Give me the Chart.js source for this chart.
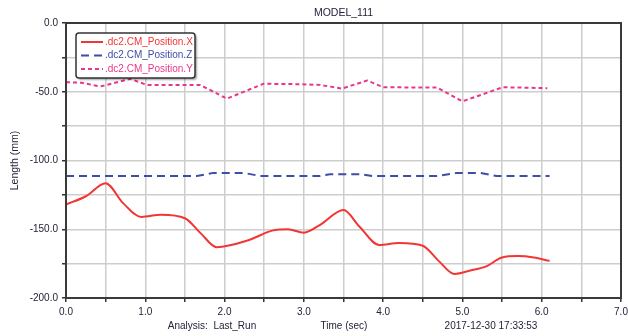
<!DOCTYPE html>
<html>
<head>
<meta charset="utf-8">
<script src="https://cdn.jsdelivr.net/npm/chart.js@4.4.1/dist/chart.umd.min.js"></script>
<style>
  html, body { margin: 0; padding: 0; background: #fff; }
  #wrap { width: 628px; height: 336px; }
</style>
</head>
<body>
<div id="wrap"><canvas id="posChart" width="628" height="336"></canvas></div>
<script>
// time samples (sec) and positions (mm) per channel
const timeX = [0, 0.25, 0.5, 0.72, 0.95, 1.2, 1.5, 1.7, 1.9, 2.3, 2.6, 2.8, 3.0, 3.2, 3.5, 3.7, 3.95, 4.2, 4.5, 4.7, 4.9, 5.1, 5.3, 5.5, 5.7, 5.9, 6.1];
const posX = [-132, -126, -116.5, -131, -141, -139.5, -142, -153, -163, -158, -151, -150, -152.5, -147, -136, -148, -161.5, -160, -162, -173, -182.5, -180, -177, -170.5, -169.5, -170.5, -173];

const timeZ = [0, 1.65, 1.86, 2.24, 2.45, 3.2, 3.33, 3.73, 3.86, 4.68, 4.93, 5.22, 5.43, 6.1];
const posZ = [-111.3, -111.3, -109, -109, -111.3, -111.3, -110, -110, -111.3, -111.3, -109, -109, -111.3, -111.3];

const timeY = [0, 0.2, 0.43, 0.81, 1.02, 1.69, 2.03, 2.49, 2.95, 3.2, 3.48, 3.8, 4.0, 4.68, 5.0, 5.51, 6.07];
const posY = [-43, -43.5, -46.2, -40.6, -45, -45, -55, -44.2, -44.5, -45, -47.7, -41.8, -46.7, -47, -57, -46.7, -47.4];

const seriesNames = ['.dc2.CM_Position.X', '.dc2.CM_Position.Z', '.dc2.CM_Position.Y'];
const seriesColors = ['#f23535', '#3d4ea6', '#e8368c'];
const seriesDash = [[], [8, 5], [4, 3]];

const chartTitle = 'MODEL_111';
const yTitle = 'Length (mm)';
const footerLeft = 'Analysis:  Last_Run';
const footerMid = 'Time (sec)';
const footerRight = '2017-12-30 17:33:53';

const FONT = "'Liberation Sans', Arial, sans-serif";
const TEXT_COLOR = '#23233a';

const toPoints = (xs, ys) => xs.map((x, i) => ({ x: x, y: ys[i] }));

// frame, titles, footer text and the inset legend
const decorPlugin = {
  id: 'decor',
  afterDatasetsDraw(chart) {
    const ctx = chart.ctx;
    const a = chart.chartArea;
    ctx.save();
    ctx.strokeStyle = '#3a3a3a';
    ctx.lineWidth = 2;
    ctx.strokeRect(a.left, a.top, a.right - a.left, a.bottom - a.top);

    ctx.fillStyle = TEXT_COLOR;
    ctx.font = '10.5px ' + FONT;
    ctx.textAlign = 'center';
    ctx.textBaseline = 'middle';
    ctx.fillText(chartTitle, (a.left + a.right) / 2, 13);
    ctx.font = '10px ' + FONT;
    ctx.fillText(footerLeft, 212, 326);
    ctx.fillText(footerMid, 344, 326);
    ctx.fillText(footerRight, 491, 326);

    ctx.save();
    ctx.font = '10.5px ' + FONT;
    ctx.translate(15, (a.top + a.bottom) / 2);
    ctx.rotate(-Math.PI / 2);
    ctx.fillText(yTitle, 0, 0);
    ctx.restore();

    // legend box
    const lx = 76, ly = 33, lw = 119, lh = 45;
    ctx.shadowColor = 'rgba(0,0,0,0.35)';
    ctx.shadowOffsetX = 2;
    ctx.shadowOffsetY = 2;
    ctx.shadowBlur = 2;
    ctx.fillStyle = '#fff';
    ctx.beginPath();
    ctx.roundRect(lx, ly, lw, lh, 3);
    ctx.fill();
    ctx.shadowColor = 'transparent';
    ctx.strokeStyle = '#333';
    ctx.lineWidth = 1.5;
    ctx.stroke();

    ctx.textAlign = 'left';
    ctx.font = '10px ' + FONT;
    chart.data.datasets.forEach((ds, i) => {
      const ry = 42 + i * 13.5;
      ctx.strokeStyle = ds.borderColor;
      ctx.lineWidth = 2;
      ctx.setLineDash(ds.borderDash);
      ctx.beginPath();
      ctx.moveTo(81, ry);
      ctx.lineTo(103, ry);
      ctx.stroke();
      ctx.setLineDash([]);
      ctx.fillStyle = ds.borderColor;
      ctx.fillText(ds.label, 105, ry);
    });
    ctx.restore();
  }
};

const datasets = [
  toPoints(timeX, posX),
  toPoints(timeZ, posZ),
  toPoints(timeY, posY)
].map((pts, i) => ({
  label: seriesNames[i],
  data: pts,
  borderColor: seriesColors[i],
  backgroundColor: seriesColors[i],
  borderDash: seriesDash[i],
  borderWidth: 2,
  pointRadius: 0,
  cubicInterpolationMode: i === 0 ? 'monotone' : 'default',
  tension: 0,
  fill: false
}));

new Chart(document.getElementById('posChart').getContext('2d'), {
  type: 'line',
  data: { datasets: datasets },
  plugins: [decorPlugin],
  options: {
    responsive: false,
    animation: false,
    events: [],
    layout: { padding: { top: 23, right: 7, left: 0, bottom: 0 } },
    plugins: {
      legend: { display: false },
      title: { display: false },
      tooltip: { enabled: false }
    },
    scales: {
      x: {
        type: 'linear',
        min: 0,
        max: 7,
        afterFit: (scale) => {
          scale.height = 38;
          scale.paddingRight = 0;
          scale.paddingLeft = 0;
        },
        grid: { color: '#cdcdcd', lineWidth: 1.5, tickColor: '#333', tickLength: 4 },
        border: { color: '#3a3a3a', width: 2 },
        ticks: {
          stepSize: 0.5,
          autoSkip: false,
          maxRotation: 0,
          padding: 4,
          color: TEXT_COLOR,
          font: { size: 10, family: FONT },
          callback: (v) => Number.isInteger(v) ? v.toFixed(1) : ''
        }
      },
      y: {
        min: -200,
        max: 0,
        afterFit: (scale) => {
          scale.width = 66;
          scale.paddingTop = 0;
          scale.paddingBottom = 0;
        },
        grid: { color: '#cdcdcd', lineWidth: 1.5, tickColor: '#333', tickLength: 4 },
        border: { color: '#3a3a3a', width: 2 },
        ticks: {
          stepSize: 25,
          autoSkip: false,
          padding: 4,
          color: TEXT_COLOR,
          font: { size: 10, family: FONT },
          callback: (v) => v % 50 === 0 ? v.toFixed(1) : ''
        }
      }
    }
  }
});
</script>
</body>
</html>
